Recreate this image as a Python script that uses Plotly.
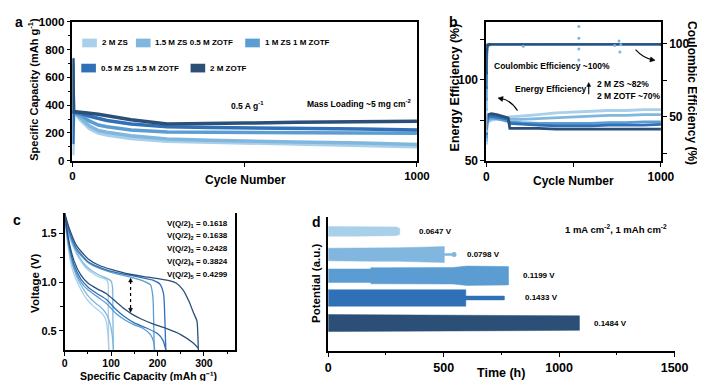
import plotly.graph_objects as go
import math

W, H = 705, 381
def X(px): return px / W
def Y(py): return 1 - py / H

FONT = "Liberation Sans, Arial, sans-serif"

# ---------------- data ----------------
names = ["2 M ZS", "1.5 M ZS 0.5 M ZOTF", "1 M ZS 1 M ZOTF", "0.5 M ZS 1.5 M ZOTF", "2 M ZOTF"]
colors = ["#a9d0ea", "#81b7de", "#5b9dd3", "#2f70b7", "#2c4f78"]

# panel a: specific capacity vs cycle number
cycles_a = [1, 3, 10, 25, 50, 75, 100, 170, 275, 400, 500, 650, 840, 1000]
cap_2ZS = [40, 345, 335, 290, 230, 199, 185, 160, 141, 135, 130, 122, 113, 102]
cap_15ZS = [700, 345, 338, 305, 250, 218, 205, 180, 157, 147, 140, 135, 128, 118]
cap_1ZS = [740, 348, 342, 325, 285, 257, 245, 222, 207, 206, 205, 204, 202, 199]
cap_05ZS = [120, 350, 348, 340, 320, 303, 290, 264, 245, 240, 238, 233, 229, 222]
cap_2ZOTF = [735, 352, 352, 350, 342, 335, 325, 295, 265, 265, 271, 277, 280, 285]
caps_a = [cap_2ZS, cap_15ZS, cap_1ZS, cap_05ZS, cap_2ZOTF]

# panel b: energy efficiency (left) and coulombic efficiency (right)
cycles_b = [1, 3, 10, 30, 60, 100, 125, 135, 200, 300, 400, 500, 600, 700, 800, 900, 1000]
ee_2ZS = [60, 70, 74, 75, 75.5, 76, 76.5, 77, 77.5, 78.5, 79.5, 80, 80.5, 81, 81, 81.5, 81.5]
ee_15ZS = [62, 72, 75, 76, 76, 75.5, 75.5, 75.5, 75.5, 76, 76.5, 77, 77.5, 78, 78, 78.5, 78.5]
ee_1ZS = [64, 73, 76, 76.5, 76, 75, 74.5, 74, 73.5, 73, 73, 73, 73, 73.5, 73.5, 74, 74]
ee_05ZS = [66, 74, 77, 77.5, 77, 76, 75.5, 73, 72.5, 72, 71.5, 71.5, 71.5, 72, 72, 72, 72.5]
ee_2ZOTF = [68, 76, 78.5, 79, 78.5, 77.5, 76.5, 70, 70, 70, 69.5, 69.5, 69.5, 69.5, 69.5, 69.5, 69.5]
ees_b = [ee_2ZS, ee_15ZS, ee_1ZS, ee_05ZS, ee_2ZOTF]

cycles_ce = [1, 3, 8, 20, 1000]
ce_2ZS = [40, 85, 98, 99.5, 99.6]
ce_15ZS = [55, 90, 98.5, 99.6, 99.7]
ce_1ZS = [62, 92, 99, 99.7, 99.7]
ce_05ZS = [70, 94, 99.2, 99.7, 99.8]
ce_2ZOTF = [80, 96, 99.4, 99.8, 99.8]
ces_b = [ce_2ZS, ce_15ZS, ce_1ZS, ce_05ZS, ce_2ZOTF]
ce_out_cycles = [212, 530, 530, 530, 530, 735, 760, 765, 770]
ce_out_values = [98.5, 112, 104, 96.5, 89, 99, 102, 94.5, 99.5]

# panel c: voltage vs specific capacity (upper and lower curve per electrolyte)
q_2ZS_u = [0, 5, 15, 30, 45, 60, 75, 88, 93, 94, 95]
v_2ZS_u = [1.68, 1.55, 1.40, 1.25, 1.15, 1.09, 1.05, 1.03, 1.0, 0.7, 0.3]
q_2ZS_l = [0, 5, 12, 20, 30, 40, 50, 60, 70, 80, 88, 92, 94, 95]
v_2ZS_l = [1.68, 1.45, 1.22, 1.08, 0.97, 0.88, 0.81, 0.76, 0.72, 0.68, 0.62, 0.52, 0.4, 0.3]
q_15ZS_u = [0, 5, 15, 30, 45, 60, 75, 90, 100, 103, 104, 105]
v_15ZS_u = [1.68, 1.56, 1.42, 1.27, 1.17, 1.11, 1.07, 1.04, 1.01, 0.95, 0.6, 0.3]
q_15ZS_l = [0, 5, 12, 20, 30, 40, 50, 60, 70, 80, 90, 98, 102, 104, 105]
v_15ZS_l = [1.68, 1.47, 1.28, 1.13, 1.01, 0.93, 0.86, 0.81, 0.77, 0.73, 0.67, 0.57, 0.47, 0.38, 0.3]
q_1ZS_u = [0, 10, 25, 50, 75, 100, 125, 150, 170, 185, 190, 192, 193]
v_1ZS_u = [1.70, 1.50, 1.33, 1.20, 1.14, 1.10, 1.07, 1.04, 1.01, 0.97, 0.85, 0.55, 0.3]
q_1ZS_l = [0, 8, 20, 35, 50, 70, 90, 110, 130, 150, 170, 185, 192, 194]
v_1ZS_l = [1.70, 1.40, 1.15, 1.00, 0.92, 0.85, 0.78, 0.68, 0.61, 0.56, 0.52, 0.46, 0.38, 0.3]
q_05ZS_u = [0, 10, 25, 50, 75, 100, 130, 160, 190, 205, 213, 216, 218]
v_05ZS_u = [1.70, 1.52, 1.35, 1.21, 1.15, 1.11, 1.08, 1.05, 1.02, 0.98, 0.88, 0.6, 0.3]
q_05ZS_l = [0, 8, 20, 35, 50, 70, 90, 110, 130, 150, 175, 200, 212, 218]
v_05ZS_l = [1.70, 1.42, 1.18, 1.03, 0.95, 0.88, 0.82, 0.72, 0.64, 0.58, 0.53, 0.47, 0.40, 0.3]
q_2ZOTF_u = [0, 10, 25, 50, 75, 100, 140, 180, 220, 240, 255, 268, 278, 285, 287, 288]
v_2ZOTF_u = [1.71, 1.55, 1.38, 1.24, 1.17, 1.13, 1.08, 1.05, 1.02, 0.99, 0.92, 0.80, 0.68, 0.6, 0.45, 0.3]
q_2ZOTF_l = [0, 8, 20, 35, 50, 70, 90, 110, 130, 145, 165, 190, 220, 250, 275, 288]
v_2ZOTF_l = [1.71, 1.45, 1.22, 1.07, 0.99, 0.93, 0.88, 0.80, 0.72, 0.67, 0.62, 0.57, 0.52, 0.46, 0.38, 0.32]
curves_c = [
    (q_2ZS_u, v_2ZS_u, q_2ZS_l, v_2ZS_l),
    (q_15ZS_u, v_15ZS_u, q_15ZS_l, v_15ZS_l),
    (q_1ZS_u, v_1ZS_u, q_1ZS_l, v_1ZS_l),
    (q_05ZS_u, v_05ZS_u, q_05ZS_l, v_05ZS_l),
    (q_2ZOTF_u, v_2ZOTF_u, q_2ZOTF_l, v_2ZOTF_l),
]
vq2_values = ["0.1618", "0.1638", "0.2428", "0.3824", "0.4299"]
half_q_arrow = 142            # capacity where the V(Q/2) arrow is drawn
half_v_top, half_v_bot = 1.04, 0.69

# panel d: voltage-profile envelope (time, half amplitude in a.u.)
band_t_1 = [0, 100, 200, 295, 310]
band_h_1 = [5, 5, 5, 4.5, 3]
band_t_2 = [0, 100, 200, 300, 400, 460, 503, 503, 545]
band_h_2 = [6.5, 6.5, 7, 7, 7.5, 8, 8.3, 1, 1]
band_t_3 = [0, 183, 185, 400, 540, 600, 700, 781]
band_h_3 = [7, 7, 8.3, 8.3, 8.5, 10, 10, 9.5]
band_t_4 = [0, 300, 596, 596, 763]
band_h_4 = [8.5, 8.5, 8.5, 2, 2]
band_t_5 = [0, 500, 1088]
band_h_5 = [8.8, 8, 7.5]
bands_d = [(band_t_1, band_h_1), (band_t_2, band_h_2), (band_t_3, band_h_3),
           (band_t_4, band_h_4), (band_t_5, band_h_5)]
overpotentials = ["0.0647 V", "0.0798 V", "0.1199 V", "0.1433 V", "0.1484 V"]

# layout-only constants for panel d (arbitrary-unit offsets and label positions)
band_offsets = [124, 100, 78, 55, 29]
label_x_d = [384, 594, 834, 842, 1143]

# ---------------- figure ----------------
fig = go.Figure()

for i in range(5):
    fig.add_trace(go.Scatter(x=cycles_a, y=caps_a[i], mode="lines",
                             line=dict(color=colors[i], width=3.5),
                             xaxis="x", yaxis="y", showlegend=False))

for i in range(5):
    fig.add_trace(go.Scatter(x=cycles_b, y=ees_b[i], mode="lines",
                             line=dict(color=colors[i], width=2.8),
                             xaxis="x2", yaxis="y2", showlegend=False))
for i in range(5):
    fig.add_trace(go.Scatter(x=cycles_ce, y=ces_b[i], mode="lines+markers",
                             line=dict(color=colors[i], width=2),
                             marker=dict(size=3, color=colors[i]),
                             xaxis="x2", yaxis="y3", showlegend=False))
fig.add_trace(go.Scatter(x=ce_out_cycles, y=ce_out_values, mode="markers",
                         marker=dict(size=3, color="#7fb5dd"),
                         xaxis="x2", yaxis="y3", showlegend=False))

for i in range(5):
    qu, vu, ql, vl = curves_c[i]
    for q, v in ((qu, vu), (ql, vl)):
        fig.add_trace(go.Scatter(x=q, y=v, mode="lines",
                                 line=dict(color=colors[i], width=1.3, shape="spline", smoothing=0.6),
                                 xaxis="x4", yaxis="y4", showlegend=False))

for i in range(5):
    t, h = bands_d[i]
    c = band_offsets[i]
    xs = list(t) + list(t[::-1])
    ys = [c + v for v in h] + [c - v for v in h[::-1]]
    fig.add_trace(go.Scatter(x=xs, y=ys, mode="lines", fill="toself", fillcolor=colors[i],
                             line=dict(color=colors[i], width=0.5),
                             xaxis="x5", yaxis="y5", showlegend=False))
fig.add_trace(go.Scatter(x=[band_t_2[-1]], y=[band_offsets[1]], mode="markers",
                         marker=dict(size=5, color=colors[1]), xaxis="x5", yaxis="y5", showlegend=False))

MINOR = dict(ticks="outside", ticklen=2.5, tickwidth=1.2, tickcolor="black")

def axis(domain, rng, size, **kw):
    d = dict(domain=domain, range=rng, showline=True, linecolor="black", linewidth=1.6,
             ticks="outside", ticklen=4, tickwidth=1.4, tickcolor="black",
             showgrid=False, zeroline=False,
             tickfont=dict(family=FONT, size=size, color="black", weight="bold"))
    d.update(kw)
    return d

# panel geometry (pixels)
A_X, A_Y = (63, 416), (8, 152)
B_X = (487, 666)
C_X, C_Y = (55, 230), (206, 348)
D_X, D_Y = (325, 680), (210, 349)
C_XR, C_YR = (0, 368), (0.3, 1.71)

def cpx(q):  # panel c data -> pixel
    return C_X[0] + (q - C_XR[0]) / (C_XR[1] - C_XR[0]) * (C_X[1] - C_X[0])
def cpy(v):
    return C_Y[1] - (v - C_YR[0]) / (C_YR[1] - C_YR[0]) * (C_Y[1] - C_Y[0])

fig.update_layout(
    width=W, height=H, autosize=False,
    margin=dict(l=0, r=0, t=0, b=0),
    paper_bgcolor="white", plot_bgcolor="white",
    font=dict(family=FONT, color="black"),
    showlegend=False,
    xaxis=axis([X(A_X[0]), X(A_X[1])], [0, 1000], 11.5, anchor="y", mirror=True,
               tickvals=[0, 1000], minor=dict(tickvals=[500], ticklen=4, ticks="outside", tickwidth=1.4, tickcolor="black")),
    yaxis=axis([Y(A_Y[1]), Y(A_Y[0])], [0, 1000], 11.5, anchor="x", mirror=True,
               tickvals=[0, 200, 400, 600, 800, 1000], minor=dict(dtick=100, **MINOR)),
    xaxis2=axis([X(B_X[0]), X(B_X[1])], [0, 1000], 12, anchor="y2", mirror=True,
                tickvals=[0, 1000], minor=dict(tickvals=[500], ticklen=4, ticks="outside", tickwidth=1.4, tickcolor="black")),
    yaxis2=axis([Y(A_Y[1]), Y(A_Y[0])], [50, 135.7], 12, anchor="x2",
                tickvals=[50, 100], minor=dict(tickvals=[75, 125], ticklen=4, ticks="outside", tickwidth=1.4, tickcolor="black")),
    yaxis3=axis([Y(A_Y[1]), Y(A_Y[0])], [19.7, 115.3], 12, anchor="x2", overlaying="y2", side="right",
                tickvals=[50, 100], minor=dict(tickvals=[25, 75], ticklen=4, ticks="outside", tickwidth=1.4, tickcolor="black")),
    xaxis4=axis([X(C_X[0]), X(C_X[1])], list(C_XR), 10.5, anchor="y4", mirror=False, ticklen=4,
                ticklabelstandoff=-2,
                tickvals=[0, 100, 200, 300], minor=dict(tickvals=[50, 150, 250, 350], **MINOR)),
    yaxis4=axis([Y(C_Y[1]), Y(C_Y[0])], list(C_YR), 11, anchor="x4", mirror=True,
                tickvals=[0.5, 1.0, 1.5], ticktext=["0.5", "1.0", "1.5"],
                minor=dict(tickvals=[0.75, 1.25], **MINOR)),
    xaxis5=axis([X(D_X[0]), X(D_X[1])], [0, 1500], 12.5, anchor="y5",
                tickvals=[0, 500, 1000, 1500], minor=dict(tickvals=[250, 750, 1250], **MINOR)),
    yaxis5=axis([Y(D_Y[1]), Y(D_Y[0])], [0, 139], 12, anchor="x5", ticks="", showticklabels=False),
)

anns = []
shapes = []
def txt(text, px, py, size, xanchor="center", yanchor="middle", angle=0):
    anns.append(dict(text=text, x=X(px), y=Y(py), xref="paper", yref="paper",
                     xanchor=xanchor, yanchor=yanchor, showarrow=False, textangle=angle,
                     font=dict(family=FONT, size=size, color="black", weight="bold")))

def P(px, py):
    return f"{X(px):.5f},{Y(py):.5f}"

def head(px, py, dx, dy, length=5.0, half=2.6):
    n = math.hypot(dx, dy)
    ux, uy = dx / n, dy / n
    bx, by = px - ux * length, py - uy * length
    p1 = (bx - uy * half, by + ux * half)
    p2 = (bx + uy * half, by - ux * half)
    shapes.append(dict(type="path", xref="paper", yref="paper",
                       path=f"M {P(px, py)} L {P(*p1)} L {P(*p2)} Z",
                       fillcolor="black", line=dict(color="black", width=0.5)))

# panel letters
txt("a", 8, 8, 14)
txt("b", 453, 8, 14)
txt("c", 6, 213, 14)
txt("d", 313, 215, 14)

# axis titles
txt("Specific Capacity (mAh g<sup>-1</sup>)", 23, 78, 11, angle=-90)
txt("Cycle Number", 240, 172, 12)
txt("Energy Efficiency (%)", 455, 76, 12.5, angle=-90)
txt("Coulombic Efficiency (%)", 698, 82, 12, angle=90)
txt("Cycle Number", 576, 173, 12)
txt("Voltage (V)", 25, 279, 11.5, angle=-90)
txt("Specific Capacity (mAh g\u207b\u00b9)", 141, 374.5, 10.5)
txt("Potential (a.u.)", 313, 279, 11.5, angle=-90)
txt("Time (h)", 502, 372, 12.5)

# panel a annotations
txt("0.5 A g<sup>-1</sup>", 223, 95, 8.5, xanchor="left")
txt("Mass Loading ~5 mg cm<sup>-2</sup>", 301, 93, 8.5, xanchor="left")

# legend (panel a)
legend_pos = [(73, 30), (128, 30), (240, 30), (72, 56), (184, 56)]
for i, (lx, ly) in enumerate(legend_pos):
    shapes.append(dict(type="rect", xref="paper", yref="paper", x0=X(lx), x1=X(lx + 15),
                       y0=Y(ly + 4.5), y1=Y(ly - 4.5), fillcolor=colors[i], line=dict(width=0)))
    txt(names[i], lx + 18, ly, 8, xanchor="left")

# panel b annotations
txt("Coulombic Efficiency ~100%", 493, 54, 8.5, xanchor="left")
txt("Energy Efficiency", 514, 78, 8.5, xanchor="left")
txt("2 M ZS ~82%", 598, 72, 8.5, xanchor="left")
txt("2 M ZOTF ~70%", 598, 85, 8.5, xanchor="left")
shapes.append(dict(type="line", xref="paper", yref="paper", x0=X(592), x1=X(592), y0=Y(83), y1=Y(74),
                   line=dict(color="black", width=1.1)))
head(592, 71, 0, -1, length=4, half=2)
shapes.append(dict(type="path", xref="paper", yref="paper",
                   path=f"M {P(519, 100)} Q {P(512, 89)} {P(502, 87.5)}", line=dict(color="black", width=1.1)))
head(499, 87, -1, -0.2)
shapes.append(dict(type="path", xref="paper", yref="paper",
                   path=f"M {P(640, 37)} Q {P(647, 45)} {P(657, 47.5)}", line=dict(color="black", width=1.1)))
head(660, 48, 1, 0.2)

# panel c annotations
for k, val in enumerate(vq2_values):
    txt(f"V(Q/2)<sub>{k + 1}</sub> = {val}", 158, 217 + k * 13.3, 8, xanchor="left")
ax_px = cpx(half_q_arrow)
top_px, bot_px = cpy(half_v_top), cpy(half_v_bot)
shapes.append(dict(type="line", xref="paper", yref="paper", x0=X(ax_px), x1=X(ax_px),
                   y0=Y(top_px + 3), y1=Y(bot_px - 3), line=dict(color="black", width=1.2, dash="dot")))
head(ax_px, top_px, 0, -1, length=4, half=2)
head(ax_px, bot_px, 0, 1, length=4, half=2)

# panel d annotations
for k in range(5):
    anns.append(dict(text=overpotentials[k], x=label_x_d[k], y=band_offsets[k], xref="x5", yref="y5",
                     xanchor="left", yanchor="middle", showarrow=False,
                     font=dict(family=FONT, size=8, color="black", weight="bold")))
txt("1 mA cm<sup>-2</sup>, 1 mAh cm<sup>-2</sup>", 566, 223, 9.5, xanchor="left")

fig.update_layout(annotations=anns, shapes=shapes)
fig.write_html("out.html")
